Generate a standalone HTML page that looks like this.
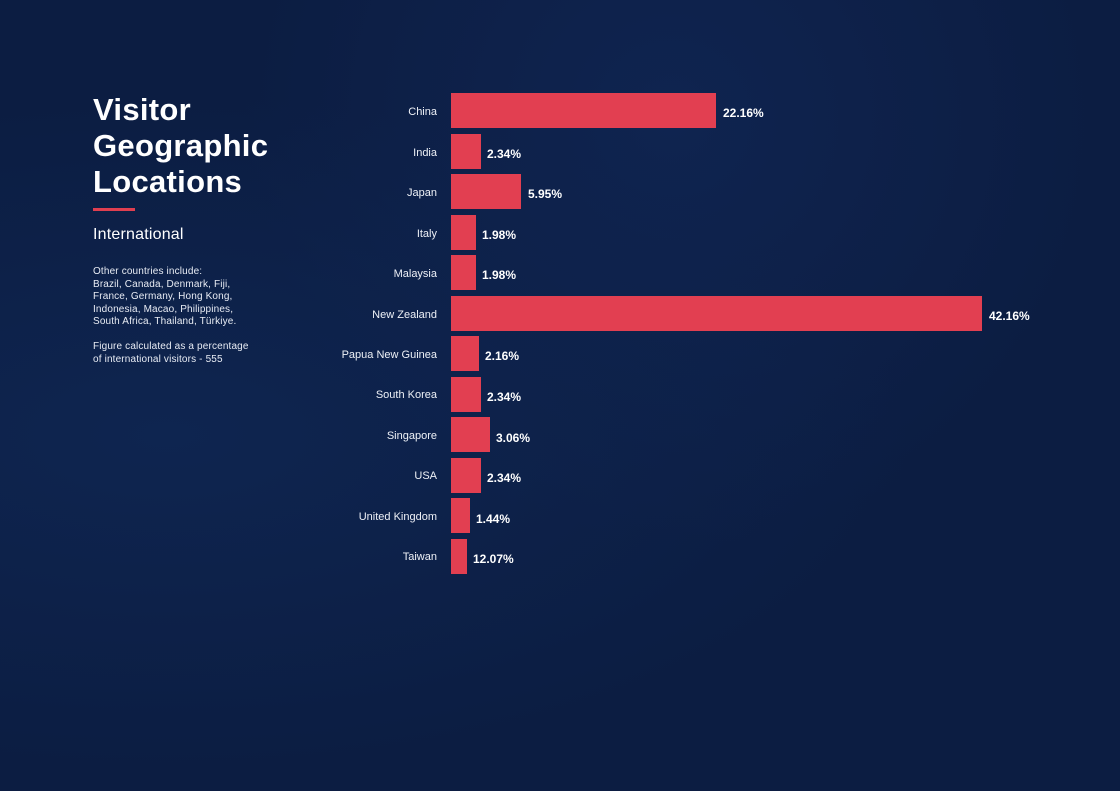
<!DOCTYPE html>
<html><head><style>
body{margin:0;width:1120px;height:791px;overflow:hidden;background:#0c1d42;font-family:"Liberation Sans",sans-serif;color:#fff;position:relative}
.bg{position:absolute;inset:0;background:radial-gradient(ellipse at 15% 55%,#0e2550 0%,rgba(12,29,66,0) 55%),radial-gradient(ellipse at 60% 15%,#0f2450 0%,rgba(12,29,66,0) 45%)}
.t{position:absolute;left:93px;top:92px;font-size:31px;line-height:36px;font-weight:bold;letter-spacing:0.3px}
.line{position:absolute;left:93px;top:208px;width:42px;height:3px;background:#e03f50}
.sub{position:absolute;left:93px;top:226px;font-size:16px;letter-spacing:0.2px}
.note{position:absolute;left:93px;top:266px;font-size:10px;line-height:12.5px;color:#e8ecf4;letter-spacing:0.15px}
.lab{position:absolute;right:683px;font-size:11px;color:#eef1f7;text-align:right;white-space:nowrap}
.bar{position:absolute;left:451px;height:35px;background:#e23f51}
.val{position:absolute;font-size:12px;font-weight:bold}
</style></head><body>
<div class="bg"></div>
<div class="t">Visitor<br>Geographic<br>Locations</div>
<div class="line"></div>
<div class="sub">International</div>
<div class="note">Other countries include:<br>Brazil, Canada, Denmark, Fiji,<br>France, Germany, Hong Kong,<br>Indonesia, Macao, Philippines,<br>South Africa, Thailand, Türkiye.<br><br>Figure calculated as a percentage<br>of international visitors - 555</div>
<div class="lab" style="top:106px">China</div><div class="bar" style="top:93px;width:265px"></div><div class="val" style="top:106px;left:723px">22.16%</div>
<div class="lab" style="top:147px">India</div><div class="bar" style="top:134px;width:30px"></div><div class="val" style="top:147px;left:487px">2.34%</div>
<div class="lab" style="top:187px">Japan</div><div class="bar" style="top:174px;width:70px"></div><div class="val" style="top:187px;left:528px">5.95%</div>
<div class="lab" style="top:228px">Italy</div><div class="bar" style="top:215px;width:25px"></div><div class="val" style="top:228px;left:482px">1.98%</div>
<div class="lab" style="top:268px">Malaysia</div><div class="bar" style="top:255px;width:25px"></div><div class="val" style="top:268px;left:482px">1.98%</div>
<div class="lab" style="top:309px">New Zealand</div><div class="bar" style="top:296px;width:531px"></div><div class="val" style="top:309px;left:989px">42.16%</div>
<div class="lab" style="top:349px">Papua New Guinea</div><div class="bar" style="top:336px;width:28px"></div><div class="val" style="top:349px;left:485px">2.16%</div>
<div class="lab" style="top:389px">South Korea</div><div class="bar" style="top:377px;width:30px"></div><div class="val" style="top:390px;left:487px">2.34%</div>
<div class="lab" style="top:430px">Singapore</div><div class="bar" style="top:417px;width:39px"></div><div class="val" style="top:431px;left:496px">3.06%</div>
<div class="lab" style="top:470px">USA</div><div class="bar" style="top:458px;width:30px"></div><div class="val" style="top:471px;left:487px">2.34%</div>
<div class="lab" style="top:511px">United Kingdom</div><div class="bar" style="top:498px;width:19px"></div><div class="val" style="top:512px;left:476px">1.44%</div>
<div class="lab" style="top:551px">Taiwan</div><div class="bar" style="top:539px;width:16px"></div><div class="val" style="top:552px;left:473px">12.07%</div>
</body></html>
